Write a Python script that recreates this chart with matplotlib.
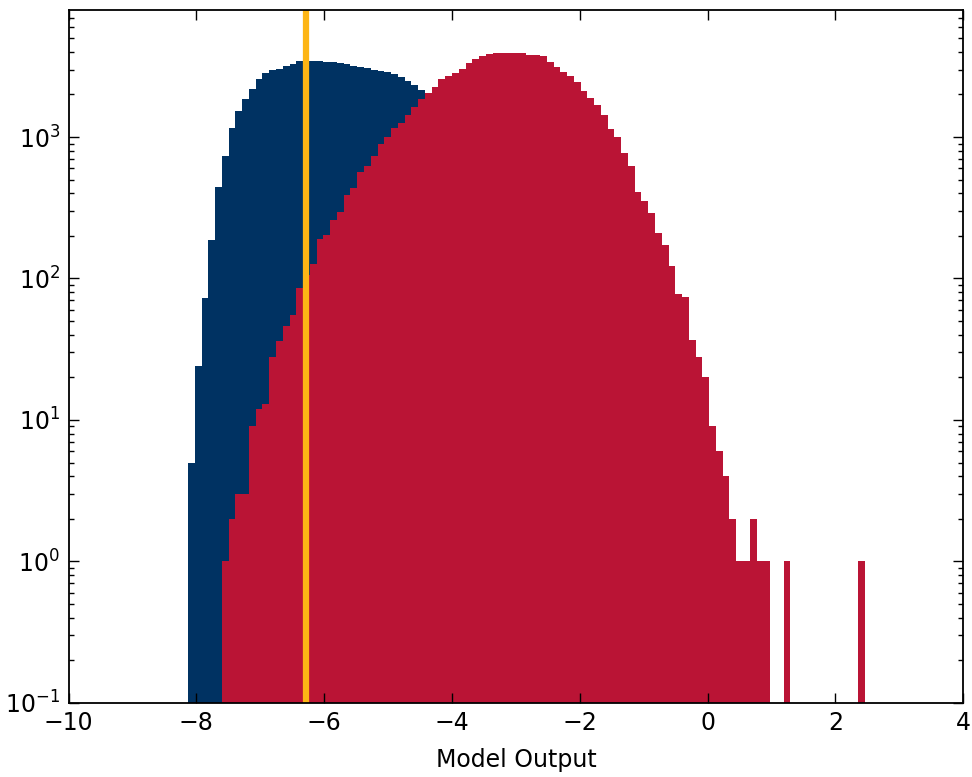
from __future__ import annotations

import matplotlib

matplotlib.use("Agg")
import matplotlib.pyplot as plt
import numpy as np

# Both samples share one binning: 100 equal bins over the combined range.
BIN_LO = -8.13
BIN_HI = 2.46
N_BINS = 100

# Per-bin counts, background sample (navy)
bkg_counts = [
    5, 24, 73, 188, 442, 737, 1153, 1537, 1849, 2178,
    2564, 2843, 2985, 3050, 3189, 3295, 3445, 3450, 3470, 3460,
    3420, 3380, 3320, 3280, 3200, 3130, 3080, 3000, 2950, 2880,
    2780, 2650, 2500, 2330, 2150, 1950, 1750, 1550, 1350, 1150,
    980, 820, 680, 550, 440, 350, 270, 205, 155, 115,
    84, 60, 42, 29, 20, 13, 8, 5, 3, 2,
    1, 1, 0, 0, 0, 0, 0, 0, 0, 0,
    0, 0, 0, 0, 0, 0, 0, 0, 0, 0,
    0, 0, 0, 0, 0, 0, 0, 0, 0, 0,
    0, 0, 0, 0, 0, 0, 0, 0, 0, 0,
]

# Per-bin counts, signal sample (red)
sig_counts = [
    0, 0, 0, 0, 0, 1, 2, 3, 3, 9,
    12, 13, 28, 36, 46, 55, 86, 105, 127, 191,
    202, 258, 295, 388, 437, 565, 623, 733, 887, 995,
    1153, 1263, 1425, 1642, 1851, 2041, 2275, 2566, 2708, 2858,
    3020, 3333, 3590, 3750, 3856, 3900, 3940, 3950, 3940, 3910,
    3820, 3780, 3713, 3420, 3118, 2905, 2708, 2443, 2130, 1900,
    1678, 1432, 1134, 1005, 774, 625, 409, 355, 292, 211,
    173, 122, 78, 74, 37, 28, 20, 9, 6, 4,
    2, 1, 1, 2, 1, 1, 0, 0, 1, 0,
    0, 0, 0, 0, 0, 0, 0, 0, 0, 1,
]

# Selection cut on the model output
CUT_VALUE = -6.29

NAVY = "#003262"
RED = "#BA1435"
GOLD = "#FDB515"


def plot_outputs() -> None:
    edges = np.linspace(BIN_LO, BIN_HI, N_BINS + 1)
    centers = 0.5 * (edges[:-1] + edges[1:])

    fig = plt.figure(figsize=(9.72, 7.77), dpi=100)
    ax = fig.add_axes([0.0705, 0.0955, 0.9205, 0.8915])

    ax.hist(centers, bins=edges, weights=bkg_counts, histtype="stepfilled",
            color=NAVY, linewidth=0, log=True)
    ax.hist(centers, bins=edges, weights=sig_counts, histtype="stepfilled",
            color=RED, linewidth=0, log=True)
    ax.axvline(CUT_VALUE, color=GOLD, linewidth=4.5)

    ax.set_xlim(-10, 4)
    ax.set_ylim(0.1, 7900)
    ax.set_xticks(np.arange(-10, 5, 2))

    ax.tick_params(which="both", direction="in", top=True, right=True,
                   labelsize=17, color="black")
    ax.tick_params(which="major", length=7, width=1)
    ax.tick_params(which="minor", length=3.5, width=1)
    ax.tick_params(axis="x", which="major", pad=6)
    ax.tick_params(axis="y", which="major", pad=6)
    for spine in ax.spines.values():
        spine.set_linewidth(1.3)

    ax.set_xlabel("Model Output", fontsize=17, labelpad=9)
    fig.savefig("out.png", dpi=100)


def main() -> None:
    plot_outputs()


if __name__ == "__main__":
    main()
